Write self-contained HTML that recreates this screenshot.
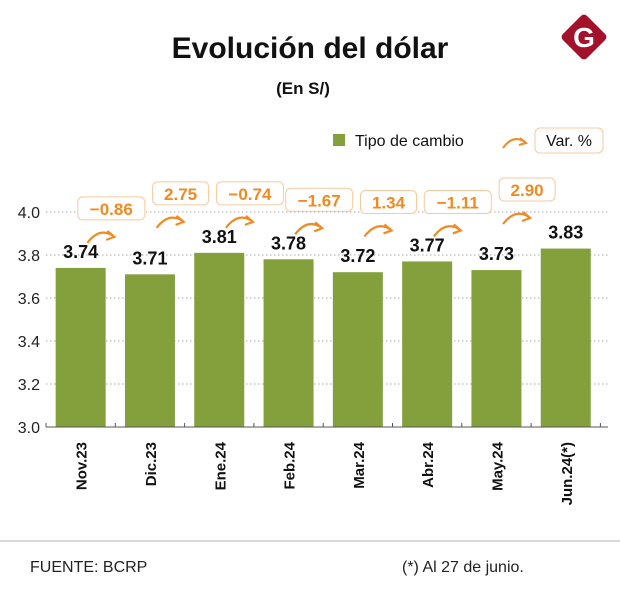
<!DOCTYPE html>
<html><head><meta charset="utf-8"><style>
body{margin:0;background:#fff;}
svg{display:block;font-family:"Liberation Sans",sans-serif;}
</style></head><body>
<svg id="c" width="620" height="605">
<text x="310" y="58" text-anchor="middle" font-size="30" font-weight="bold" fill="#111">Evolución del dólar</text>
<text x="303" y="94" text-anchor="middle" font-size="17" font-weight="bold" fill="#111">(En S/)</text>
<g>
<rect x="567" y="20" width="34" height="34" rx="4" fill="#a3122a" transform="rotate(45 584 37)"/>
<text x="584" y="47" text-anchor="middle" font-size="28" font-weight="bold" fill="#fff">G</text>
</g>
<g>
<rect x="333" y="134" width="12" height="12" fill="#84a03d"/>
<text x="355" y="146" font-size="16" fill="#111">Tipo de cambio</text>
<path d="M503 148 Q513 134 525 142" fill="none" stroke="#f08a24" stroke-width="2"/>
<path d="M520 138 L526 143 L519 145" fill="none" stroke="#f08a24" stroke-width="2"/>
<rect x="535" y="128" width="68" height="25" rx="5" fill="#fff" stroke="#f7c9a0"/>
<text x="569" y="146" text-anchor="middle" font-size="16" fill="#111">Var. %</text>
</g>
<g id="plot"></g>
<line x1="0" y1="541" x2="620" y2="541" stroke="#ccc" stroke-width="1.5"/>
<text x="30" y="572" font-size="16" fill="#222">FUENTE: BCRP</text>
<text x="402" y="572" font-size="16" fill="#222">(*) Al 27 de junio.</text>
</svg>
<script>
const categories=["Nov.23","Dic.23","Ene.24","Feb.24","Mar.24","Abr.24","May.24","Jun.24(*)"];
const values=[3.74,3.71,3.81,3.78,3.72,3.77,3.73,3.83];
const valueLabels=["3.74","3.71","3.81","3.78","3.72","3.77","3.73","3.83"];
const changes=["-0.86","2.75","-0.74","-1.67","1.34","-1.11","2.90"];
const yTicks=[3.0,3.2,3.4,3.6,3.8,4.0];
const yTickLabels=["3.0","3.2","3.4","3.6","3.8","4.0"];
const NS="http://www.w3.org/2000/svg";
const g=document.getElementById('plot');
const x0=46,step=69.3,bw=50,yBase=427;
function xC(i){return x0+step*(i+0.5);}
function y(v){return yBase-(v-3.0)*215;}
function mk(t,a,p){const e=document.createElementNS(NS,t);for(const k in a)e.setAttribute(k,a[k]);(p||g).appendChild(e);return e;}
yTicks.forEach((v,i)=>{
 if(v>3.0){const l=mk('line',{x1:x0,x2:608,y1:y(v),y2:y(v),stroke:'#aaa','stroke-dasharray':'1.5 2.5'});
 
 }
 const t=mk('text',{x:40,y:y(v)+6,'text-anchor':'end','font-size':16,fill:'#222'});t.textContent=yTickLabels[i];
 
 
});
values.forEach((v,i)=>{
 const r=mk('rect',{x:xC(i)-bw/2,y:y(v),width:bw,height:yBase-y(v),fill:'#84a03d'});
 
 
 const t=mk('text',{x:xC(i),y:y(v)-10,'text-anchor':'middle','font-size':18,'font-weight':'bold',fill:'#111'});t.textContent=valueLabels[i];
 
 
 const c=mk('text',{transform:`translate(${xC(i)+6},442) rotate(-90)`,'text-anchor':'end','font-size':15,'font-weight':'bold',fill:'#111'});c.textContent=categories[i];
 
 
});
const ax=mk('line',{x1:x0,x2:608,y1:yBase,y2:yBase,stroke:'#555','stroke-width':1});


for(let i=0;i<=categories.length;i++){mk('line',{x1:x0+step*i,x2:x0+step*i,y1:yBase-4,y2:yBase,stroke:'#555'});}
changes.forEach((c,i)=>{
 const top=Math.min(y(values[i]),y(values[i+1]));
 const cy=Math.max(189,top-60);
 const cx=(xC(i)+xC(i+1))/2-4;
 const w=c.length*11+12;
 const b=mk('rect',{x:cx-w/2,y:cy-11,width:w,height:23,rx:5,fill:'#fff',stroke:'#f7c9a0'});
 
 
 const t=mk('text',{x:cx,y:cy+7,'text-anchor':'middle','font-size':17,'font-weight':'bold',fill:'#f08a24'});t.textContent=c.replace('-','\u2212');
 
 
 const ay=cy+28,axx=cx-12;
 const a=mk('path',{d:`M${axx-12} ${ay+7} Q${axx} ${ay-9} ${axx+14} ${ay}`,fill:'none',stroke:'#f08a24','stroke-width':2.2});
 
 
 mk('path',{d:`M${axx+8} ${ay-5} L${axx+15} ${ay+1} L${axx+7} ${ay+4}`,fill:'none',stroke:'#f08a24','stroke-width':2.2});
});
</script>
</body></html>
